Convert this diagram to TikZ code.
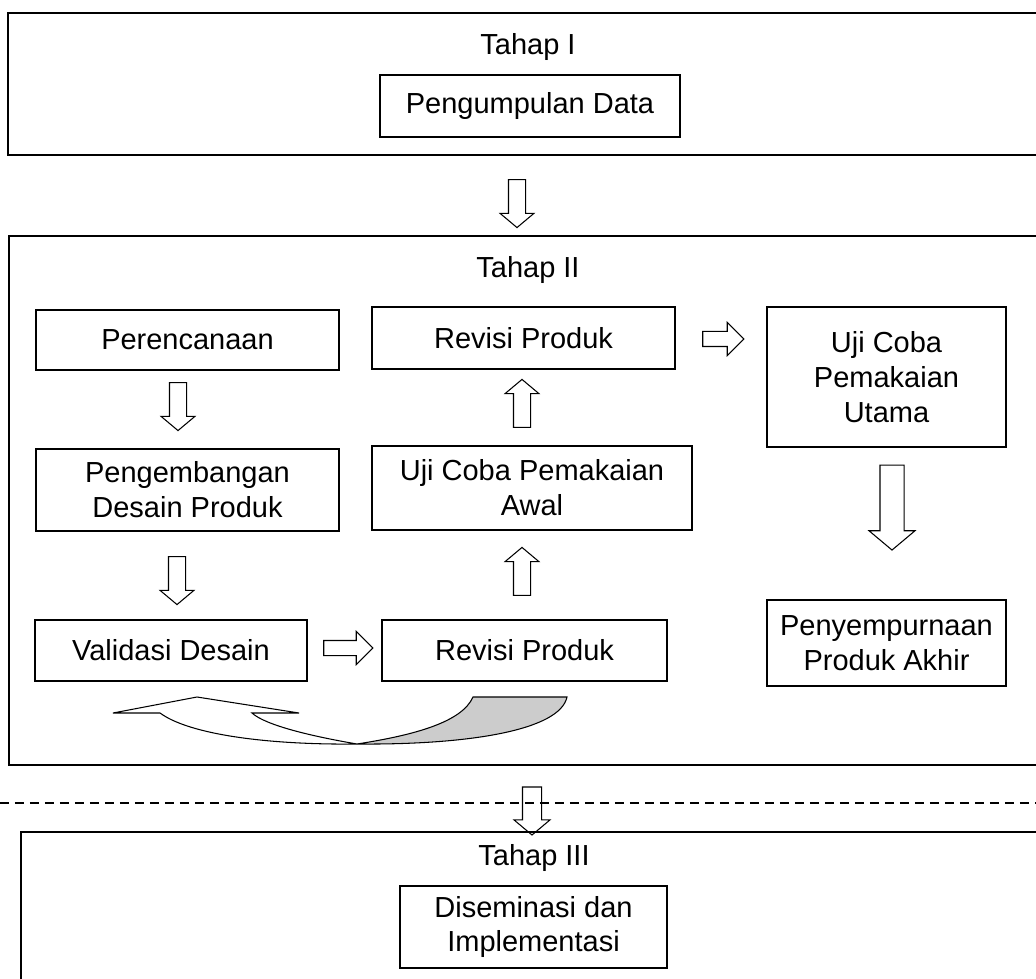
\documentclass[tikz,border=0pt]{standalone}
\usepackage{fontspec}
\setmainfont{Liberation Sans}
\usetikzlibrary{shapes.arrows}

\begin{document}
\begin{tikzpicture}[
  huruf/.style={font=\fontsize{16.5}{19.8}\selectfont},
  tahap/.style={draw, line width=1.1pt},
  kotak/.style={huruf, draw, line width=1pt, align=center, inner sep=0pt},
  panah/.style={draw, single arrow, line width=0.6pt, inner sep=0.16cm,
    single arrow head extend=0.17cm, single arrow tip angle=100,
    minimum height=0.96cm},
  panahturun/.style={panah, rotate=-90},
  panahnaik/.style={panah, rotate=90},
  panahkanan/.style={panah, inner sep=0.14cm, single arrow head extend=0.18cm,
    single arrow tip angle=90, minimum height=0.82cm}
]
  \useasboundingbox (0,0) rectangle (20.72,-19.58);
  \clip (0,0) rectangle (20.72,-19.58);

  % Tahap I
  \draw[tahap] (0.16,-0.26) rectangle (20.9,-3.10);
  \node[huruf] (tahapI) at (10.56,-0.94) {Tahap I};
  \node[kotak, minimum width=6cm, minimum height=1.24cm] (pengumpulan) at (10.6,-2.12) {Pengumpulan Data};
  \node[panahturun] (p1) at (10.34,-4.0) {};

  % Tahap II
  \draw[tahap] (0.18,-4.72) rectangle (20.9,-15.30);
  \node[huruf] (tahapII) at (10.56,-5.4) {Tahap II};

  \node[kotak, minimum width=6.06cm, minimum height=1.2cm] (perencanaan) at (3.75,-6.8) {Perencanaan};
  \node[kotak, minimum width=6.06cm, minimum height=1.64cm] (pengembangan) at (3.75,-9.8) {Pengembangan\\Desain Produk};
  \node[kotak, minimum width=5.44cm, minimum height=1.22cm] (validasi) at (3.42,-13.01) {Validasi Desain};

  \node[kotak, minimum width=6.06cm, minimum height=1.24cm] (revisiA) at (10.47,-6.76) {Revisi Produk};
  \node[kotak, minimum width=6.4cm, minimum height=1.68cm] (ujiAwal) at (10.64,-9.76) {Uji Coba Pemakaian\\Awal};
  \node[kotak, minimum width=5.7cm, minimum height=1.22cm] (revisiB) at (10.49,-13.01) {Revisi Produk};

  \node[kotak, minimum width=4.78cm, minimum height=2.8cm] (ujiUtama) at (17.73,-7.54) {Uji Coba\\Pemakaian\\Utama};
  \node[kotak, minimum width=4.78cm, minimum height=1.72cm] (penyempurnaan) at (17.73,-12.86) {Penyempurnaan\\Produk Akhir};

  % panah blok
  \node[panahturun] (p2) at (3.56,-8.06) {};
  \node[panahturun] (p3) at (3.54,-11.54) {};
  \node[panahkanan, minimum height=0.98cm] (p4) at (6.89,-12.96) {};
  \node[panahnaik] (p5) at (10.44,-11.5) {};
  \node[panahnaik] (p6) at (10.44,-8.14) {};
  \node[panahkanan] (p7) at (14.39,-6.78) {};
  \node[panahturun, inner sep=0.23cm, single arrow head extend=0.22cm, minimum height=1.7cm] (p8) at (17.84,-10.05) {};

  % panah lengkung
  \draw[line width=0.6pt, fill=black!20] (9.46,-13.94) -- (11.34,-13.94)
    .. controls (11.2,-14.6) and (9.4,-14.9) .. (7.14,-14.88)
    .. controls (8.3,-14.7) and (9.24,-14.44) .. (9.46,-13.94) -- cycle;
  \draw[line width=0.6pt, fill=white] (7.14,-14.88)
    .. controls (5.4,-14.9) and (3.8,-14.7) .. (3.2,-14.26)
    -- (2.26,-14.26) -- (3.94,-13.94) -- (5.98,-14.26) -- (5.04,-14.26)
    .. controls (5.3,-14.5) and (6.2,-14.72) .. (7.14,-14.88) -- cycle;

  % garis putus-putus
  \draw[line width=1pt, dash pattern=on 0.18cm off 0.12cm] (0,-16.06) -- (20.72,-16.06);
  \node[panahturun, inner sep=0.18cm] (p9) at (10.64,-16.14) {};

  % Tahap III
  \draw[tahap] (0.42,-16.64) rectangle (20.9,-20);
  \node[huruf] (tahapIII) at (10.68,-17.16) {Tahap III};
  \node[kotak, minimum width=5.34cm, minimum height=1.64cm] (diseminasi) at (10.67,-18.54) {Diseminasi dan\\Implementasi};
\end{tikzpicture}
\end{document}
